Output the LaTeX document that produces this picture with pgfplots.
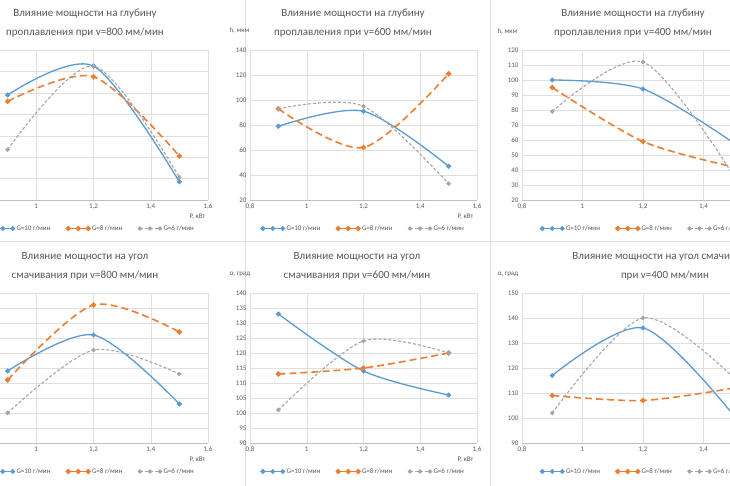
\documentclass[border=0pt]{standalone}
\usepackage{pgfplots}
\pgfplotsset{compat=1.18}
\usepackage{fontspec}
\setmainfont{Carlito}
\definecolor{cb}{RGB}{91,155,213}
\definecolor{co}{RGB}{237,125,49}
\definecolor{cg}{RGB}{165,165,165}
\definecolor{tx}{RGB}{89,89,89}
\pgfplotsset{
 myax/.style={scale only axis, anchor=south west, height=150pt,
  xmin=0.8,xmax=1.6, xtick={0.8,1,...,1.6},
  /pgf/number format/use comma, /pgf/number format/assume math mode=true,
  grid=major, major grid style={gray!25},
  axis line style={draw=none}, axis x line*=bottom, x axis line style={draw=gray!50},
  tick style={draw=none}, ticklabel style={font=\fontsize{7}{8}\selectfont, text=tx},
  clip=false,
  legend columns=3,
  legend style={draw=none, fill=none, font=\fontsize{7}{8}\selectfont, text=tx,
    at={(0.5,-0.19)}, anchor=center,
    /tikz/every even column/.append style={column sep=14pt}},
  legend image code/.code={\draw[##1] plot coordinates {(0cm,0cm) (0.7cm,0cm)};\fill[##1,solid] (0.35cm,0cm) circle (1.7pt);},
 },
 sb/.style={cb, line width=1.3pt, smooth, mark=*, mark size=1.8pt, mark options={solid}},
 so/.style={co, line width=1.6pt, smooth, dash pattern=on 7pt off 4pt, mark=*, mark size=1.8pt, mark options={solid}},
 sg/.style={cg, line width=1.1pt, smooth, dash pattern=on 3pt off 2pt, mark=*, mark size=1.6pt, mark options={solid}},
}
\newcommand\legG{\addlegendentry{G=10 г/мин}\addlegendentry{G=8 г/мин}\addlegendentry{G=6 г/мин}}
\newcommand\ttl[4]{\node[font=\fontsize{11}{12}\selectfont, text=tx] at ({#1pt},{486pt-#2pt}) {#3};\node[font=\fontsize{11}{12}\selectfont, text=tx] at ({#1pt},{486pt-#2pt-19pt}) {#4};}
\newcommand\lbl[3]{\node[font=\fontsize{7}{8}\selectfont, text=tx, anchor=west] at ({#1pt},{486pt-#2pt}) {#3};}
\begin{document}
\begin{tikzpicture}
\clip (0,0) rectangle (730pt,486pt);
\fill[white] (0,0) rectangle (730pt,486pt);
\draw[gray!25] (245pt,0) -- (245pt,486pt) (490pt,0) -- (490pt,486pt) (0,245pt) -- (730pt,245pt);
% top left
\begin{axis}[myax, at={(-21pt,286pt)}, width=229pt, ymin=0,ymax=140, ytick={0,20,...,140}]
\addplot[sb] coordinates {(0.9,98) (1.2,125) (1.5,17)};
\addplot[so] coordinates {(0.9,92) (1.2,115) (1.5,41)};
\addplot[sg] coordinates {(0.9,47) (1.2,125) (1.5,21)};
\legG
\end{axis}
\ttl{85}{14}{Влияние мощности на глубину}{проплавления при v=800 мм/мин}
\lbl{186}{217}{P, кВт}
% top middle
\begin{axis}[myax, at={(250pt,286pt)}, width=227pt, ymin=20,ymax=140, ytick={20,40,...,140}]
\addplot[sb] coordinates {(0.9,79) (1.2,91) (1.5,47)};
\addplot[so] coordinates {(0.9,93) (1.2,62) (1.5,121)};
\addplot[sg] coordinates {(0.9,93) (1.2,95) (1.5,33)};
\legG
\end{axis}
\ttl{353}{14}{Влияние мощности на глубину}{проплавления при v=600 мм/мин}
\lbl{226}{31}{h, мкм}
\lbl{454}{217}{P, кВт}
% top right
\begin{axis}[myax, at={(522pt,286pt)}, width=242pt, ymin=20,ymax=120, ytick={20,30,...,120}]
\addplot[sb] coordinates {(0.9,100) (1.2,94) (1.5,58)};
\addplot[so] coordinates {(0.9,95) (1.2,59) (1.5,42)};
\addplot[sg] coordinates {(0.9,79) (1.2,112) (1.5,36)};
\legG
\end{axis}
\ttl{633}{14}{Влияние мощности на глубину}{проплавления при v=400 мм/мин}
\lbl{494}{32}{h, мкм}
% bottom left
\begin{axis}[myax, at={(-21pt,43pt)}, width=229pt, ymin=90,ymax=140, ytick={90,95,...,140}]
\addplot[sb] coordinates {(0.9,114) (1.2,126) (1.5,103)};
\addplot[so] coordinates {(0.9,111) (1.2,136) (1.5,127)};
\addplot[sg] coordinates {(0.9,100) (1.2,121) (1.5,113)};
\legG
\end{axis}
\ttl{85}{257}{Влияние мощности на угол}{смачивания при v=800 мм/мин}
\lbl{186}{460}{P, кВт}
% bottom middle
\begin{axis}[myax, at={(250pt,43pt)}, width=227pt, ymin=90,ymax=140, ytick={90,95,...,140}]
\addplot[sb] coordinates {(0.9,133) (1.2,114) (1.5,106)};
\addplot[so] coordinates {(0.9,113) (1.2,115) (1.5,120)};
\addplot[sg] coordinates {(0.9,101) (1.2,124) (1.5,120)};
\legG
\end{axis}
\ttl{357}{257}{Влияние мощности на угол}{смачивания при v=600 мм/мин}
\lbl{226}{274}{α, град}
\lbl{454}{460}{P, кВт}
% bottom right
\begin{axis}[myax, at={(522pt,43pt)}, width=242pt, ymin=90,ymax=150, ytick={90,100,...,150}]
\addplot[sb] coordinates {(0.9,117) (1.2,136) (1.5,101)};
\addplot[so] coordinates {(0.9,109) (1.2,107) (1.5,112)};
\addplot[sg] coordinates {(0.9,102) (1.2,140) (1.5,116)};
\legG
\end{axis}
\ttl{665}{257}{Влияние мощности на угол смачивания}{при v=400 мм/мин}
\lbl{494}{274}{α, град}
\end{tikzpicture}
\end{document}
